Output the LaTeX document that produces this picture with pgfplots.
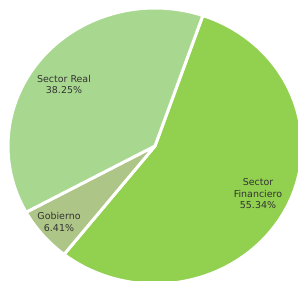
\documentclass[border=0pt]{standalone}
\usepackage{pgfplots}
\usepackage{pgfplotstable}
\pgfplotsset{compat=1.18}
\usepackage{fontspec}
\setmainfont{DejaVu Sans}
\definecolor{cFin}{HTML}{92D050}
\definecolor{cGob}{HTML}{ADC586}
\definecolor{cReal}{HTML}{A8D88F}
\definecolor{cTxt}{HTML}{333333}
\pgfplotstableread{
label value
Financiero 55.34
Gobierno 6.41
Real 38.25
}\piedata
\begin{document}
\begin{tikzpicture}
\useasboundingbox (0,0) rectangle (298bp,281bp);
\pgfmathsetmacro\cx{155}
\pgfmathsetmacro\cy{135}
\pgfmathsetmacro\rx{147}
\pgfmathsetmacro\ry{138}
\pgfmathsetmacro\aA{71}
\pgfplotstablegetelem{0}{value}\of\piedata
\pgfmathsetmacro\aB{\aA-3.6*\pgfplotsretval}
\pgfplotstablegetelem{1}{value}\of\piedata
\pgfmathsetmacro\aC{\aB-3.6*\pgfplotsretval}
\pgfplotstablegetelem{2}{value}\of\piedata
\pgfmathsetmacro\aD{\aC-3.6*\pgfplotsretval}
\begin{axis}[at={(0,0)}, anchor=south west,
  width=298bp, height=281bp, scale only axis, hide axis,
  xmin=0, xmax=298, ymin=0, ymax=281, clip=true]
\addplot[fill=cFin, draw=white, line width=3bp, line join=round, domain=\aB:\aA, samples=90, variable=\t]
  ({\cx+\rx*cos(\t)}, {\cy+\ry*sin(\t)}) -- (axis cs:\cx,\cy) -- cycle;
\addplot[fill=cGob, draw=white, line width=3bp, line join=round, domain=\aC:\aB, samples=20, variable=\t]
  ({\cx+\rx*cos(\t)}, {\cy+\ry*sin(\t)}) -- (axis cs:\cx,\cy) -- cycle;
\addplot[fill=cReal, draw=white, line width=3bp, line join=round, domain=\aD:\aC, samples=90, variable=\t]
  ({\cx+\rx*cos(\t)}, {\cy+\ry*sin(\t)}) -- (axis cs:\cx,\cy) -- cycle;
\node[text=cTxt, font=\fontsize{9.5}{11.5}\selectfont, align=center] at (axis cs:64,196.5) {Sector Real\\38.25\%};
\node[text=cTxt, font=\fontsize{9.5}{11.5}\selectfont, align=center] at (axis cs:59,59) {Gobierno\\6.41\%};
\node[text=cTxt, font=\fontsize{9.5}{11.5}\selectfont, align=center] at (axis cs:258,87) {Sector\\Financiero\\55.34\%};
\end{axis}
\end{tikzpicture}
\end{document}
